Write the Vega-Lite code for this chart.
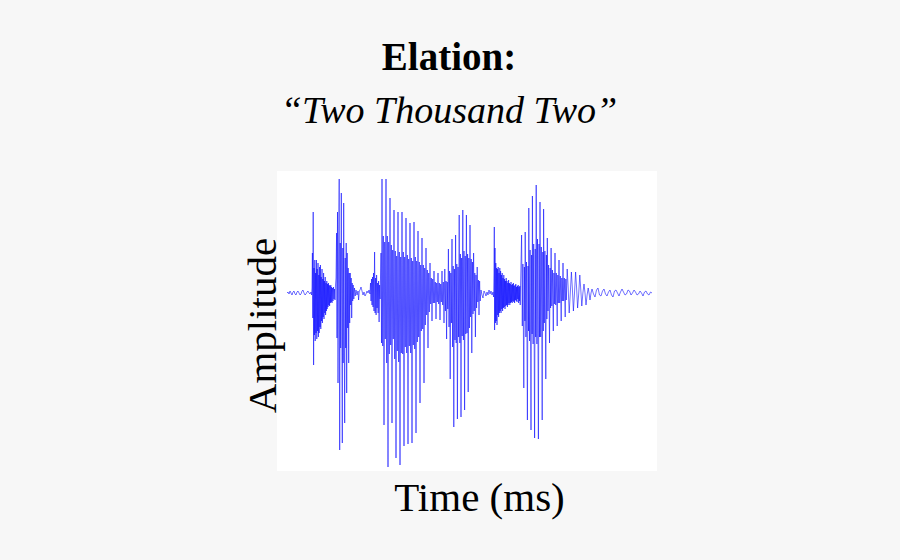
{
"$schema": "https://vega.github.io/schema/vega-lite/v6.json",
"autosize": "none",
"width": 380,
"height": 300,
"padding": {"left": 277, "top": 171, "right": 243, "bottom": 89},
"background": "#f7f7f7",
"config": {"view": {"fill": "white", "stroke": null}},
"title": {
  "text": "Elation:",
  "subtitle": "“Two Thousand Two”",
  "anchor": "middle",
  "frame": "group",
  "dx": -18,
  "offset": 40,
  "font": "Liberation Serif",
  "fontSize": 39,
  "fontWeight": "bold",
  "color": "black",
  "subtitleFont": "Liberation Serif",
  "subtitleFontSize": 38,
  "subtitleFontStyle": "italic",
  "subtitleColor": "black",
  "subtitlePadding": 15
},
"data": {"values": [
{"t":287,"a":0},{"t":288,"a":1},{"t":289,"a":-1},{"t":290,"a":2},{"t":291,"a":0},{"t":292,"a":-2},{"t":293,"a":1},{"t":294,"a":2},{"t":295,"a":-1},{"t":296,"a":-2},{"t":297,"a":1},{"t":298,"a":2},{"t":299,"a":0},{"t":300,"a":-2},{"t":301,"a":-1},{"t":302,"a":2},{"t":303,"a":3},{"t":304,"a":0},{"t":305,"a":-2},{"t":306,"a":-1},{"t":307,"a":1},{"t":308,"a":2},{"t":309,"a":0},{"t":310,"a":-1},{"t":311,"a":1},{"t":311.6,"a":-2},
{"t":312.0,"a":5},{"t":312.4,"a":40},{"t":312.8,"a":-25},{"t":313.2,"a":81},{"t":313.6,"a":-72},{"t":314.0,"a":25},{"t":314.4,"a":-42},{"t":314.8,"a":33},{"t":315.2,"a":-48},{"t":315.6,"a":20},{"t":316.0,"a":-40},{"t":316.4,"a":33},{"t":316.8,"a":-46},{"t":317.2,"a":24},{"t":317.6,"a":-38},{"t":318.0,"a":30},{"t":318.4,"a":-44},{"t":318.8,"a":18},{"t":319.2,"a":-40},{"t":319.6,"a":26},{"t":320.0,"a":-34},{"t":320.4,"a":28},{"t":320.8,"a":-36},{"t":321.2,"a":16},{"t":321.6,"a":-28},{"t":322.0,"a":24},{"t":322.4,"a":-30},{"t":322.8,"a":14},{"t":323.2,"a":-24},{"t":323.6,"a":20},{"t":324.0,"a":-26},{"t":324.4,"a":12},{"t":324.8,"a":-20},{"t":325.2,"a":16},{"t":325.6,"a":-22},{"t":326.0,"a":10},{"t":326.4,"a":-18},{"t":326.8,"a":12},{"t":327.2,"a":-16},{"t":327.6,"a":9},{"t":328.0,"a":-14},{"t":328.4,"a":10},{"t":328.8,"a":-12},{"t":329.2,"a":8},{"t":329.6,"a":-13},{"t":330.0,"a":7},{"t":330.4,"a":-10},{"t":330.8,"a":8},{"t":331.2,"a":-9},{"t":331.6,"a":6},{"t":332.0,"a":-10},{"t":332.5,"a":5},{"t":333.0,"a":-8},{"t":333.5,"a":6},{"t":334.0,"a":-6},{"t":334.5,"a":4},{"t":335.0,"a":-7},{"t":335.5,"a":8},
{"t":336.0,"a":15},{"t":336.6,"a":60},{"t":337.0,"a":-45},{"t":337.5,"a":81},{"t":338.0,"a":-90},{"t":338.6,"a":40},{"t":339.2,"a":114},{"t":339.7,"a":-157},{"t":340.2,"a":50},{"t":340.7,"a":-55},{"t":341.3,"a":100},{"t":341.8,"a":-40},{"t":342.3,"a":-150},{"t":342.8,"a":45},{"t":343.2,"a":-70},{"t":343.7,"a":90},{"t":344.2,"a":-30},{"t":344.7,"a":-130},{"t":345.2,"a":35},{"t":345.7,"a":-55},{"t":346.2,"a":50},{"t":346.7,"a":-100},{"t":347.2,"a":40},{"t":347.7,"a":-35},{"t":348.2,"a":25},{"t":348.7,"a":-70},{"t":349.2,"a":20},{"t":349.7,"a":-30},{"t":350.2,"a":20},{"t":350.7,"a":-12},{"t":351.2,"a":15},{"t":351.7,"a":-25},{"t":352.2,"a":10},{"t":352.7,"a":-8},{"t":353.2,"a":8},{"t":353.8,"a":-6},{"t":354.5,"a":5},{"t":355.2,"a":-3},{"t":356,"a":3},{"t":357,"a":-2},{"t":358,"a":2},{"t":358.6,"a":-7},{"t":359.3,"a":2},{"t":360,"a":3},{"t":361,"a":6},{"t":362,"a":2},{"t":363,"a":-2},{"t":364,"a":1},{"t":365,"a":-3},{"t":366,"a":-1},{"t":367,"a":2},{"t":368,"a":0},{"t":369,"a":3},{"t":370,"a":-1},
{"t":370.5,"a":10},{"t":371,"a":-8},{"t":371.5,"a":14},{"t":372,"a":-12},{"t":372.5,"a":16},{"t":373,"a":-14},{"t":373.5,"a":20},{"t":374,"a":-18},{"t":374.6,"a":41},{"t":375.1,"a":-20},{"t":375.6,"a":15},{"t":376.1,"a":-22},{"t":376.6,"a":18},{"t":377.1,"a":-15},{"t":377.6,"a":10},{"t":378.1,"a":-20},{"t":378.6,"a":12},{"t":379.1,"a":-29},{"t":379.6,"a":8},{"t":380.1,"a":-6},{"t":380.6,"a":20},{"t":381.0,"a":40},{"t":381.5,"a":-50},
{"t":382.0,"a":114},{"t":382.7,"a":-53},{"t":383.3,"a":57},{"t":384.0,"a":-132},{"t":384.7,"a":51},{"t":385.3,"a":-46},
{"t":386.0,"a":114},{"t":386.7,"a":-70},{"t":387.3,"a":57},{"t":388.0,"a":-174},{"t":388.7,"a":51},{"t":389.3,"a":-61},
{"t":390.0,"a":95},{"t":390.7,"a":-52},{"t":391.3,"a":48},{"t":392.0,"a":-130},{"t":392.7,"a":43},{"t":393.3,"a":-46},
{"t":394.0,"a":83},{"t":394.7,"a":-66},{"t":395.3,"a":42},{"t":396.0,"a":-165},{"t":396.7,"a":37},{"t":397.3,"a":-58},
{"t":398.0,"a":81},{"t":398.7,"a":-69},{"t":399.3,"a":41},{"t":400.0,"a":-172},{"t":400.7,"a":36},{"t":401.3,"a":-60},
{"t":402.0,"a":81},{"t":402.7,"a":-61},{"t":403.3,"a":41},{"t":404.0,"a":-153},{"t":404.7,"a":36},{"t":405.3,"a":-54},
{"t":406.0,"a":75},{"t":406.7,"a":-60},{"t":407.3,"a":38},{"t":408.0,"a":-151},{"t":408.7,"a":34},{"t":409.3,"a":-53},
{"t":410.0,"a":70},{"t":410.7,"a":-60},{"t":411.3,"a":35},{"t":412.0,"a":-150},{"t":412.7,"a":32},{"t":413.3,"a":-52},
{"t":414.0,"a":71},{"t":414.7,"a":-56},{"t":415.3,"a":36},{"t":416.0,"a":-140},{"t":416.7,"a":32},{"t":417.3,"a":-49},
{"t":418.0,"a":62},{"t":418.7,"a":-44},{"t":419.3,"a":31},{"t":420.0,"a":-110},{"t":420.7,"a":28},{"t":421.3,"a":-38},
{"t":422.0,"a":55},{"t":422.7,"a":-36},{"t":423.3,"a":28},{"t":424.0,"a":-90},{"t":424.7,"a":25},{"t":425.3,"a":-32},
{"t":426.0,"a":45},{"t":426.7,"a":-22},{"t":427.3,"a":23},{"t":428.0,"a":-55},{"t":428.7,"a":20},{"t":429.3,"a":-19},
{"t":430.0,"a":30},{"t":430.7,"a":-11},{"t":431.3,"a":15},{"t":432.0,"a":-28},{"t":432.7,"a":14},{"t":433.3,"a":-10},
{"t":434.0,"a":22},{"t":434.7,"a":-10},{"t":435.3,"a":11},{"t":436.0,"a":-26},{"t":436.7,"a":10},{"t":437.3,"a":-9},
{"t":438.0,"a":20},{"t":438.7,"a":-11},{"t":439.3,"a":10},{"t":440.0,"a":-27},{"t":440.7,"a":9},{"t":441.3,"a":-9},
{"t":442.0,"a":22},{"t":442.7,"a":-12},{"t":443.3,"a":11},{"t":444.0,"a":-30},
{"t":444.8,"a":24},{"t":445.4,"a":-18},{"t":446.0,"a":12},{"t":446.6,"a":-46},{"t":447.2,"a":11},{"t":447.8,"a":-16},
{"t":448.4,"a":44},{"t":449.0,"a":-34},{"t":449.6,"a":22},{"t":450.2,"a":-86},{"t":450.8,"a":20},{"t":451.4,"a":-30},
{"t":452.0,"a":54},{"t":452.6,"a":-54},{"t":453.2,"a":27},{"t":453.8,"a":-134},{"t":454.4,"a":24},{"t":455.0,"a":-47},
{"t":455.6,"a":58},{"t":456.2,"a":-50},{"t":456.8,"a":29},{"t":457.4,"a":-126},{"t":458.0,"a":26},{"t":458.6,"a":-44},
{"t":459.2,"a":78},{"t":459.8,"a":-50},{"t":460.4,"a":39},{"t":461.0,"a":-124},{"t":461.6,"a":35},{"t":462.2,"a":-43},
{"t":462.8,"a":83},{"t":463.4,"a":-47},{"t":464.0,"a":42},{"t":464.6,"a":-117},{"t":465.2,"a":37},{"t":465.8,"a":-41},
{"t":466.4,"a":78},{"t":467.0,"a":-40},{"t":467.6,"a":39},{"t":468.2,"a":-99},{"t":468.8,"a":35},{"t":469.4,"a":-35},
{"t":470.0,"a":68},{"t":470.6,"a":-24},{"t":471.2,"a":34},{"t":471.8,"a":-60},{"t":472.4,"a":31},{"t":473.0,"a":-21},
{"t":473.6,"a":40},{"t":474.2,"a":-18},{"t":474.8,"a":20},{"t":475.4,"a":-44},{"t":476.0,"a":18},{"t":476.6,"a":-15},
{"t":477.2,"a":26},{"t":477.8,"a":-9},{"t":478.4,"a":13},{"t":479.0,"a":-22},{"t":479.6,"a":12},{"t":480.2,"a":-8},
{"t":481,"a":3},{"t":482,"a":-2},{"t":483,"a":-5},{"t":484,"a":2},{"t":485,"a":0},{"t":486,"a":-3},{"t":487,"a":1},{"t":488,"a":-2},{"t":489,"a":3},{"t":490,"a":-1},{"t":491,"a":2},{"t":492,"a":-2},{"t":493,"a":1},{"t":493.6,"a":-4},
{"t":494.0,"a":20},{"t":494.3,"a":66},{"t":494.6,"a":-37},{"t":495.0,"a":45},{"t":495.4,"a":-30},{"t":495.8,"a":30},{"t":496.2,"a":-28},{"t":496.6,"a":25},{"t":497.0,"a":-32},{"t":497.4,"a":24},{"t":497.8,"a":-22},{"t":498.2,"a":26},{"t":498.6,"a":-24},{"t":499.0,"a":20},{"t":499.4,"a":-20},{"t":499.8,"a":25},{"t":500.2,"a":-18},{"t":500.6,"a":22},{"t":501.0,"a":-20},{"t":501.4,"a":18},{"t":501.8,"a":-16},{"t":502.2,"a":20},{"t":502.6,"a":-18},{"t":503.0,"a":15},{"t":503.4,"a":-15},{"t":503.8,"a":18},{"t":504.2,"a":-14},{"t":504.6,"a":14},{"t":505.0,"a":-16},{"t":505.4,"a":12},{"t":505.8,"a":-13},{"t":506.2,"a":15},{"t":506.6,"a":-12},{"t":507.0,"a":12},{"t":507.4,"a":-14},{"t":507.8,"a":10},{"t":508.2,"a":-12},{"t":508.6,"a":13},{"t":509.0,"a":-10},{"t":509.4,"a":10},{"t":509.8,"a":-12},{"t":510.2,"a":9},{"t":510.6,"a":-10},{"t":511.0,"a":11},{"t":511.4,"a":-9},{"t":511.8,"a":8},{"t":512.2,"a":-10},{"t":512.6,"a":9},{"t":513.0,"a":-8},{"t":513.4,"a":10},{"t":513.8,"a":-9},{"t":514.2,"a":7},{"t":514.6,"a":-10},{"t":515.0,"a":8},{"t":515.4,"a":-7},{"t":515.8,"a":9},{"t":516.2,"a":-8},{"t":516.6,"a":6},{"t":517.0,"a":-9},{"t":517.4,"a":7},{"t":517.8,"a":-6},{"t":518.2,"a":8},{"t":518.6,"a":-10},{"t":519.0,"a":6},{"t":519.4,"a":-8},{"t":519.8,"a":7},{"t":520.2,"a":-12},{"t":520.6,"a":10},
{"t":521.6,"a":58},{"t":522.3,"a":-33},{"t":522.9,"a":29},{"t":523.8,"a":-95},{"t":524.4,"a":26},{"t":524.9,"a":-28},
{"t":525.2,"a":61},{"t":525.9,"a":-44},{"t":526.5,"a":31},{"t":527.4,"a":-127},{"t":528.0,"a":27},{"t":528.5,"a":-38},
{"t":528.8,"a":85},{"t":529.5,"a":-48},{"t":530.1,"a":43},{"t":531.0,"a":-137},{"t":531.6,"a":38},{"t":532.1,"a":-41},
{"t":532.4,"a":97},{"t":533.1,"a":-51},{"t":533.7,"a":49},{"t":534.6,"a":-145},{"t":535.2,"a":44},{"t":535.7,"a":-44},
{"t":536.2,"a":108},{"t":536.9,"a":-51},{"t":537.5,"a":54},{"t":538.4,"a":-146},{"t":539.0,"a":49},{"t":539.5,"a":-44},
{"t":540.0,"a":91},{"t":540.7,"a":-44},{"t":541.3,"a":46},{"t":542.2,"a":-127},{"t":542.8,"a":41},{"t":543.3,"a":-38},
{"t":543.6,"a":84},{"t":544.3,"a":-30},{"t":544.9,"a":42},{"t":545.8,"a":-86},{"t":546.4,"a":38},{"t":546.9,"a":-26},
{"t":547.3,"a":55},{"t":548.0,"a":-18},{"t":548.6,"a":28},{"t":549.5,"a":-50},{"t":550.1,"a":25},{"t":550.6,"a":-15},
{"t":551.1,"a":45},{"t":551.8,"a":-13},{"t":552.4,"a":23},{"t":553.3,"a":-38},{"t":553.9,"a":20},{"t":554.4,"a":-11},
{"t":555.0,"a":40},{"t":555.7,"a":-12},{"t":556.3,"a":20},{"t":557.2,"a":-33},{"t":557.8,"a":18},{"t":558.3,"a":-10},
{"t":559.0,"a":33},{"t":559.7,"a":-10},{"t":560.3,"a":17},{"t":561.2,"a":-28},{"t":561.8,"a":15},{"t":562.3,"a":-8},
{"t":563.0,"a":30},{"t":563.7,"a":-8},{"t":564.3,"a":15},{"t":565.2,"a":-24},{"t":565.8,"a":14},{"t":566.3,"a":-7},
{"t":567.2,"a":24},{"t":568.2,"a":5},{"t":569.2,"a":-20},{"t":570.3,"a":0},
{"t":571.4,"a":21},{"t":572.4,"a":4},{"t":573.4,"a":-18},{"t":574.5,"a":0},
{"t":575.6,"a":21},{"t":576.6,"a":5},{"t":577.6,"a":-15},{"t":578.7,"a":-1},
{"t":579.8,"a":18},{"t":580.8,"a":3},{"t":581.8,"a":-13},{"t":582.9,"a":0},
{"t":584.0,"a":9},{"t":585.0,"a":0},{"t":586.0,"a":-12},{"t":587.1,"a":-2},
{"t":588.2,"a":5},{"t":589.2,"a":-1},{"t":590.0,"a":-7},{"t":591,"a":0},
{"t":592,"a":4},{"t":593.5,"a":-1},{"t":595,"a":-4},{"t":596.5,"a":3},{"t":598,"a":5},{"t":599.5,"a":-2},{"t":601,"a":-3},{"t":602.5,"a":2},{"t":604,"a":4},{"t":605.5,"a":-1},{"t":607,"a":-3},{"t":608.5,"a":1},{"t":610,"a":3},{"t":611.5,"a":-2},{"t":613,"a":-4},{"t":614.5,"a":2},{"t":616,"a":3},{"t":617.5,"a":0},{"t":619,"a":-3},{"t":620.5,"a":1},{"t":622,"a":4},{"t":623.5,"a":1},{"t":625,"a":-2},{"t":626.5,"a":-1},{"t":628,"a":3},{"t":629.5,"a":2},{"t":631,"a":-2},{"t":632.5,"a":0},{"t":634,"a":3},{"t":635.5,"a":1},{"t":637,"a":-2},{"t":638.5,"a":-1},{"t":640,"a":2},{"t":641.5,"a":0},{"t":643,"a":-3},{"t":644.5,"a":1},{"t":646,"a":2},{"t":647.5,"a":-1},{"t":649,"a":-2},{"t":650.5,"a":1},{"t":652,"a":0}
]},
"mark": {"type": "line", "color": "#0000ff", "strokeWidth": 0.8, "opacity": 0.7, "interpolate": "linear"},
"encoding": {
  "x": {"field": "t", "type": "quantitative", "scale": {"domain": [277, 657], "nice": false, "zero": false},
        "axis": {"title": "Time (ms)", "domain": false, "ticks": false, "labels": false, "grid": false,
                 "titleFont": "Liberation Serif", "titleFontSize": 41, "titleFontWeight": "normal", "titleColor": "black",
                 "titleBaseline": "alphabetic", "titleY": 39, "titleX": 202}},
  "y": {"field": "a", "type": "quantitative", "scale": {"domain": [-178, 122], "nice": false, "zero": false},
        "axis": {"title": "Amplitude", "domain": false, "ticks": false, "labels": false, "grid": false,
                 "titleFont": "Liberation Serif", "titleFontSize": 41, "titleFontWeight": "normal", "titleColor": "black",
                 "titleAngle": -90, "titleBaseline": "alphabetic", "titleX": -2, "titleY": 154, "titleAlign": "center"}}
}
}
